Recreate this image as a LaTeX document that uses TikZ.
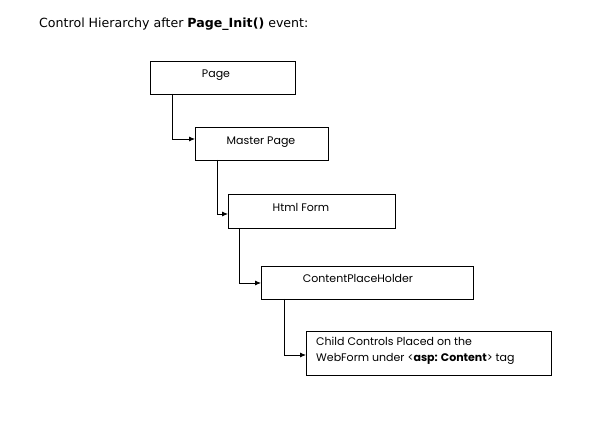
\documentclass[tikz,border=0pt]{standalone}
\usepackage{fontspec}
\setmainfont{Poppins}
\newfontfamily\titlefont{DejaVu Sans}
\usetikzlibrary{arrows.meta}
\begin{document}
\begin{tikzpicture}[x=1pt,y=-1pt,
  box/.style={draw=black,line width=0.8pt,fill=white},
  lbl/.style={font=\fontsize{11}{14}\selectfont,inner sep=0pt,anchor=base},
  conn/.style={draw=black,line width=0.8pt,-{Latex[length=6pt,width=5pt]}}]
\useasboundingbox (0,0) rectangle (598,438);
\node[font=\titlefont\fontsize{12.6}{15}\selectfont,anchor=base west,inner sep=0pt] (title) at (39,28) {Control Hierarchy after \textbf{Page\_Init()} event:};
\path[box] (150,61) rectangle (295,94);
\node[lbl] (t1) at (216,78) {Page};
\path[box] (195,127) rectangle (328,160);
\node[lbl] (t2) at (261,145) {Master Page};
\path[box] (228,194) rectangle (395,228);
\node[lbl] (t3) at (301,212) {Html Form};
\path[box] (261,266) rectangle (473,299);
\node[lbl] (t4) at (358,283) {ContentPlaceHolder};
\path[box] (306,331) rectangle (551,375);
\node[lbl,anchor=base west] (t5a) at (316,346) {Child Controls Placed on the};
\node[lbl,anchor=base west] (t5b) at (316,362) {WebForm under <\textbf{asp: Content}> tag};
\coordinate (a1) at (172,94); \coordinate (b1) at (195,139);
\coordinate (a2) at (217,160); \coordinate (b2) at (228,214);
\coordinate (a3) at (239,228); \coordinate (b3) at (261,283);
\coordinate (a4) at (284,299); \coordinate (b4) at (306,355);
\draw[conn] (a1) |- (b1);
\draw[conn] (a2) |- (b2);
\draw[conn] (a3) |- (b3);
\draw[conn] (a4) |- (b4);
\end{tikzpicture}
\end{document}
